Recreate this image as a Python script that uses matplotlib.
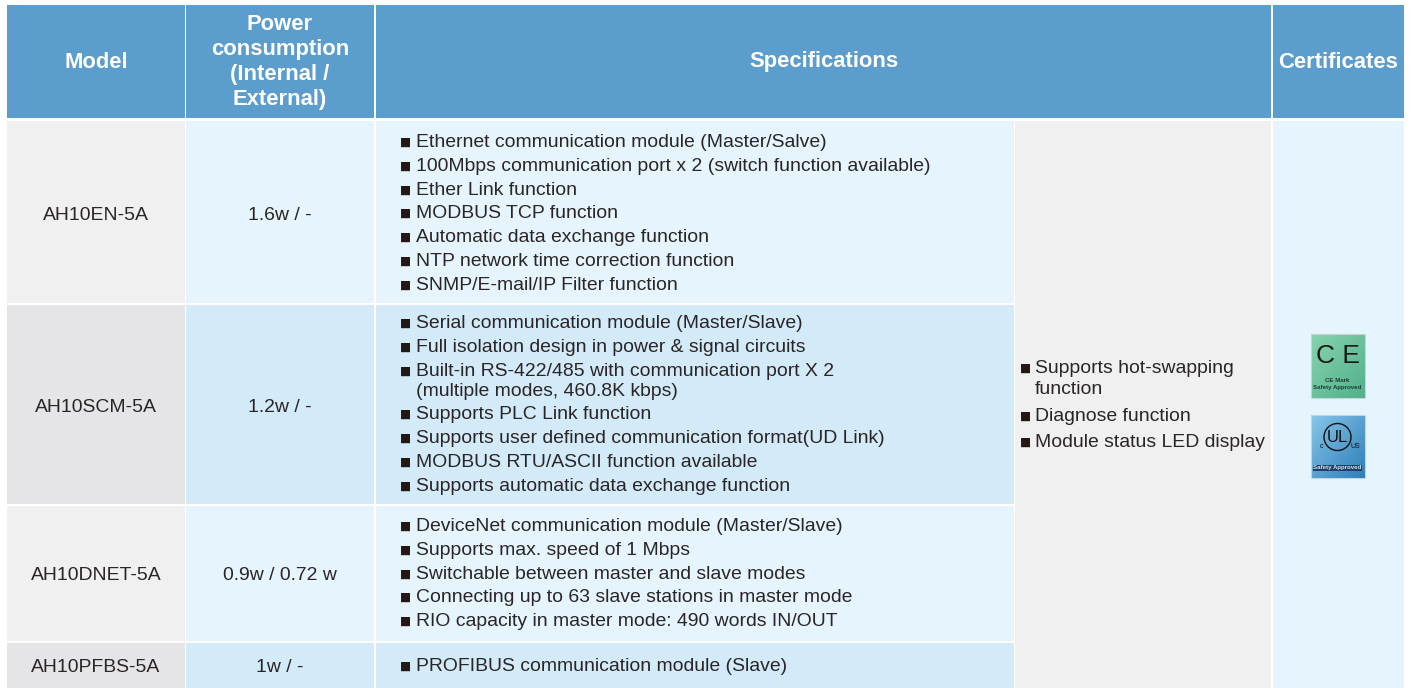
#!/usr/bin/env python3
"""Communication module spec table, drawn on a pixel-sized axes."""
import numpy as np
import matplotlib
matplotlib.use('Agg')
import matplotlib.pyplot as plt
from matplotlib.colors import to_rgb
from matplotlib.patches import Rectangle, Circle

HEAD = '#5b9dcd'; GREY1 = '#f0f0f0'; GREY2 = '#e5e5e7'; BLUE1 = '#e6f5fd'; BLUE2 = '#d3eaf8'; INK = '#2a2526'
BODY_SIZE = 13.95

models = ['AH10EN-5A', 'AH10SCM-5A', 'AH10DNET-5A', 'AH10PFBS-5A']
power = ['1.6w / -', '1.2w / -', '0.9w / 0.72 w', '1w / -']
header_labels = ['Model', 'Power\nconsumption\n(Internal /\nExternal)', 'Specifications', 'Certificates']
specs = [
    ['Ethernet communication module (Master/Salve)',
     '100Mbps communication port x 2 (switch function available)',
     'Ether Link function',
     'MODBUS TCP function',
     'Automatic data exchange function',
     'NTP network time correction function',
     'SNMP/E-mail/IP Filter function'],
    ['Serial communication module (Master/Slave)',
     'Full isolation design in power & signal circuits',
     'Built-in RS-422/485 with communication port X 2\n(multiple modes, 460.8K kbps)',
     'Supports PLC Link function',
     'Supports user defined communication format(UD Link)',
     'MODBUS RTU/ASCII function available',
     'Supports automatic data exchange function'],
    ['DeviceNet communication module (Master/Slave)',
     'Supports max. speed of 1 Mbps',
     'Switchable between master and slave modes',
     'Connecting up to 63 slave stations in master mode',
     'RIO capacity in master mode: 490 words IN/OUT'],
    ['PROFIBUS communication module (Slave)'],
]
common = ['Supports hot-swapping\nfunction', 'Diagnose function', 'Module status LED display']

# layout in image pixels
col_x = [(7, 184.5), (186, 373.5), (376, 1013.5), (1015, 1271), (1273, 1404)]
row_y = [(121, 303), (305, 504), (506, 641), (643, 688)]
cell_y = [215, 407, 575, 667]
spec_y = [[142, 166, 190, 213, 237, 261, 285],
          [323, 347, 371, 414, 438, 462, 486],
          [526, 550, 574, 597, 621],
          [666]]
common_y = [368, 416, 442]

plt.rcParams.update({'font.family': ['Liberation Sans', 'DejaVu Sans']})
fig = plt.figure(figsize=(14.13, 6.88), dpi=100)
ax = fig.add_axes([0, 0, 1, 1])
ax.axis('off')

def box(x0, x1, y0, y1, color):
    ax.add_patch(Rectangle((x0, y0), x1 - x0, y1 - y0, fc=color, ec='none'))

def bullet(x, y):
    ax.text(x, y, '■', color='#231815', fontsize=8.5, family='DejaVu Sans', ha='left', va='center')

# header
head_cols = [(7, 184.5), (186, 373.5), (376, 1271), (1273, 1404)]
head_x = [96, 280, 824, 1338.5]
head_y = [63, 62, 62, 63]
for (x0, x1), hx, hy, lab in zip(head_cols, head_x, head_y, header_labels):
    box(x0, x1, 5, 118, HEAD)
    ax.text(hx, hy, lab, color='white', fontsize=15.8, fontweight='bold', ha='center', va='center',
            linespacing=1.27)

# body
for i, (y0, y1) in enumerate(row_y):
    box(*col_x[0], y0, y1, GREY1 if i % 2 == 0 else GREY2)
    box(*col_x[1], y0, y1, BLUE1 if i % 2 == 0 else BLUE2)
    box(*col_x[2], y0, y1, BLUE1 if i % 2 == 0 else BLUE2)
    ax.text(96, cell_y[i], models[i], color=INK, fontsize=BODY_SIZE, ha='center', va='center')
    ax.text(280, cell_y[i], power[i], color=INK, fontsize=BODY_SIZE, ha='center', va='center')
    for y, line in zip(spec_y[i], specs[i]):
        bullet(400, y)
        ax.text(416, y - 8, line, color=INK, fontsize=BODY_SIZE, ha='left', va='top', linespacing=1.25)

box(1015, 1271, 121, 688, GREY1)
box(*col_x[4], 121, 688, BLUE1)
for y, line in zip(common_y, common):
    bullet(1020, y)
    ax.text(1035, y - 8, line, color=INK, fontsize=BODY_SIZE, ha='left', va='top', linespacing=1.3)

# certificate badges
def badge(x0, x1, y0, y1, c_light, c_dark):
    # soft corner-to-corner shading
    g = np.linspace(0, 1, 32)
    mix = 0.5 * (g[None, :] + g[:, None])[..., None]
    img = np.array(to_rgb(c_light)) * (1 - mix) + np.array(to_rgb(c_dark)) * mix
    ax.imshow(img, extent=(x0, x1, y1, y0), aspect='auto', interpolation='bilinear', zorder=2)
    ax.add_patch(Rectangle((x0, y0), x1 - x0, y1 - y0, fc='none', ec='#c9d3d6', lw=0.8, zorder=3))

badge(1310.5, 1364.5, 334, 398, '#86d3ae', '#52b08c')
ax.text(1337.5, 356, 'C E', color='#1a1a1a', fontsize=19, ha='center', va='center', zorder=4)
ax.text(1337.5, 384, 'CE Mark\nSafety Approved', color='#1d3b32', fontsize=4.4, fontweight='bold',
        ha='center', va='center', linespacing=1.25, zorder=4)

badge(1310.5, 1364.5, 415, 478, '#86c6ea', '#2f7fb8')
ax.text(1337.5, 438, 'UL', color='#111111', fontsize=12, ha='center', va='center', zorder=4)
ax.add_patch(Circle((1337.5, 437), 13.5, fc='none', ec='#111111', lw=1.0, zorder=4))
ax.text(1322, 446, 'c', color='#111111', fontsize=5, ha='center', va='center', zorder=4)
ax.text(1355, 446, 'US', color='#111111', fontsize=5, ha='center', va='center', zorder=4)
ax.text(1337.5, 468, 'Safety Approved', color='#d8e4ee', fontsize=4.4, fontweight='bold', ha='center', va='center',
        zorder=4, bbox=dict(fc='#1f3f66', ec='none', pad=0.6))

ax.set_xlim(0, 1413); ax.set_ylim(688, 0)
fig.savefig('out.png', dpi=100)
